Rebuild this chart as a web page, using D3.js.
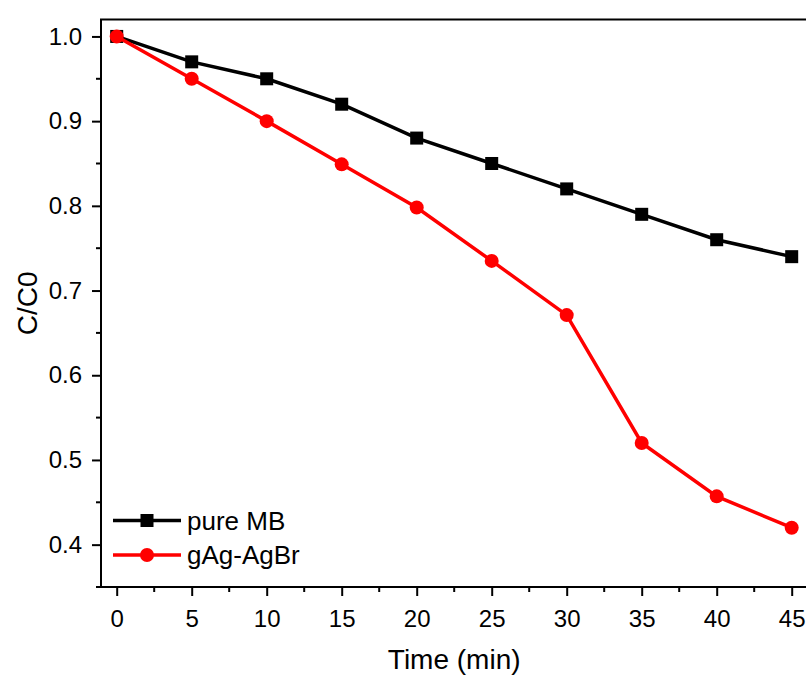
<!DOCTYPE html>
<html>
<head>
<meta charset="utf-8">
<script src="https://cdn.jsdelivr.net/npm/d3@7"></script>
<style>
  body { margin: 0; background: #fff; }
  svg { display: block; font-family: "Liberation Sans", Arial, sans-serif; }
  .tick text { font-size: 24px; }
</style>
</head>
<body>
<div id="chart"></div>
<script>
// data
var times = [0, 5, 10, 15, 20, 25, 30, 35, 40, 45];
var pureMB = [1.0, 0.97, 0.95, 0.92, 0.88, 0.85, 0.82, 0.79, 0.76, 0.74];
var gAgAgBr = [1.0, 0.95, 0.90, 0.849, 0.798, 0.735, 0.671, 0.52, 0.457, 0.42];
var xTicks = [0, 5, 10, 15, 20, 25, 30, 35, 40, 45];
var yTicks = [0.4, 0.5, 0.6, 0.7, 0.8, 0.9, 1.0];

var W = 806, H = 677;
var left = 101;

var svg = d3.select("#chart")
  .append("svg")
  .attr("width", W)
  .attr("height", H);

var x = d3.scaleLinear().domain([-1, 47]).range([left + 0.7, left + 0.7 + 48 * 15]);
var y = d3.scaleLinear().domain([0.35, 1.02]).range([587, 19.5]);

// frame
svg.append("rect")
  .attr("x", left)
  .attr("y", y(1.02))
  .attr("width", x(47) - left)
  .attr("height", y(0.35) - y(1.02))
  .attr("fill", "none")
  .attr("stroke", "#000")
  .attr("stroke-width", 2);

// minor ticks
var xMinor = d3.range(2.5, 47, 5);
svg.selectAll(".xminor")
  .data(xMinor)
  .enter().append("line")
  .attr("x1", function(d) { return x(d); })
  .attr("x2", function(d) { return x(d); })
  .attr("y1", y(0.35))
  .attr("y2", y(0.35) + 5)
  .attr("stroke", "#000").attr("stroke-width", 2);

var yMinor = [0.35, 0.45, 0.55, 0.65, 0.75, 0.85, 0.95];
svg.selectAll(".yminor")
  .data(yMinor)
  .enter().append("line")
  .attr("x1", left)
  .attr("x2", left - 5)
  .attr("y1", function(d) { return y(d); })
  .attr("y2", function(d) { return y(d); })
  .attr("stroke", "#000").attr("stroke-width", 2);

// axes
var xAxis = svg.append("g")
  .attr("transform", "translate(0," + y(0.35) + ")")
  .call(d3.axisBottom(x).tickValues(xTicks).tickSize(9).tickPadding(14).tickSizeOuter(0));
var yAxis = svg.append("g")
  .attr("transform", "translate(" + left + ",0)")
  .call(d3.axisLeft(y).tickValues(yTicks).tickFormat(d3.format(".1f")).tickSize(9).tickPadding(10).tickSizeOuter(0));

[xAxis, yAxis].forEach(function(g) {
  g.attr("font-size", 24).attr("font-family", null);
  g.select(".domain").remove();
  g.selectAll(".tick line").attr("stroke-width", 2);
  g.selectAll("text")
    .attr("font-size", 24)
    .attr("fill", "#000");
});

// axis titles
svg.append("text")
  .attr("x", x(22.5))
  .attr("y", 669)
  .attr("text-anchor", "middle")
  .style("font-size", "28px")
  .text("Time (min)");

svg.append("text")
  .attr("transform", "translate(37," + y(0.685) + ") rotate(-90)")
  .attr("text-anchor", "middle")
  .style("font-size", "28px")
  .text("C/C0");

// series
var line = d3.line()
  .x(function(d) { return x(d[0]); })
  .y(function(d) { return y(d[1]); });

var series = [
  {name: "pure MB", values: pureMB, color: "#000", shape: "square"},
  {name: "gAg-AgBr", values: gAgAgBr, color: "#ff0000", shape: "circle"}
];

function drawMarker(g, shape, color, cx, cy) {
  if (shape === "square") {
    g.append("rect")
      .attr("x", cx - 6.5).attr("y", cy - 6.5)
      .attr("width", 13).attr("height", 13)
      .attr("fill", color);
  } else {
    g.append("circle")
      .attr("cx", cx).attr("cy", cy).attr("r", 7)
      .attr("fill", color);
  }
}

series.forEach(function(s) {
  var pts = times.map(function(t, i) { return [t, s.values[i]]; });
  svg.append("path")
    .datum(pts)
    .attr("d", line)
    .attr("fill", "none")
    .attr("stroke", s.color)
    .attr("stroke-width", 3.5);
  var g = svg.append("g");
  pts.forEach(function(p) {
    drawMarker(g, s.shape, s.color, x(p[0]), y(p[1]));
  });
});

// legend
var legY = [520.5, 555];
series.forEach(function(s, i) {
  var g = svg.append("g");
  g.append("line")
    .attr("x1", 113).attr("x2", 181)
    .attr("y1", legY[i]).attr("y2", legY[i])
    .attr("stroke", s.color).attr("stroke-width", 3.5);
  drawMarker(g, s.shape, s.color, 147, legY[i]);
  g.append("text")
    .attr("x", 187)
    .attr("y", legY[i] + 9)
    .style("font-size", "26px")
    .text(s.name);
});
</script>
</body>
</html>
